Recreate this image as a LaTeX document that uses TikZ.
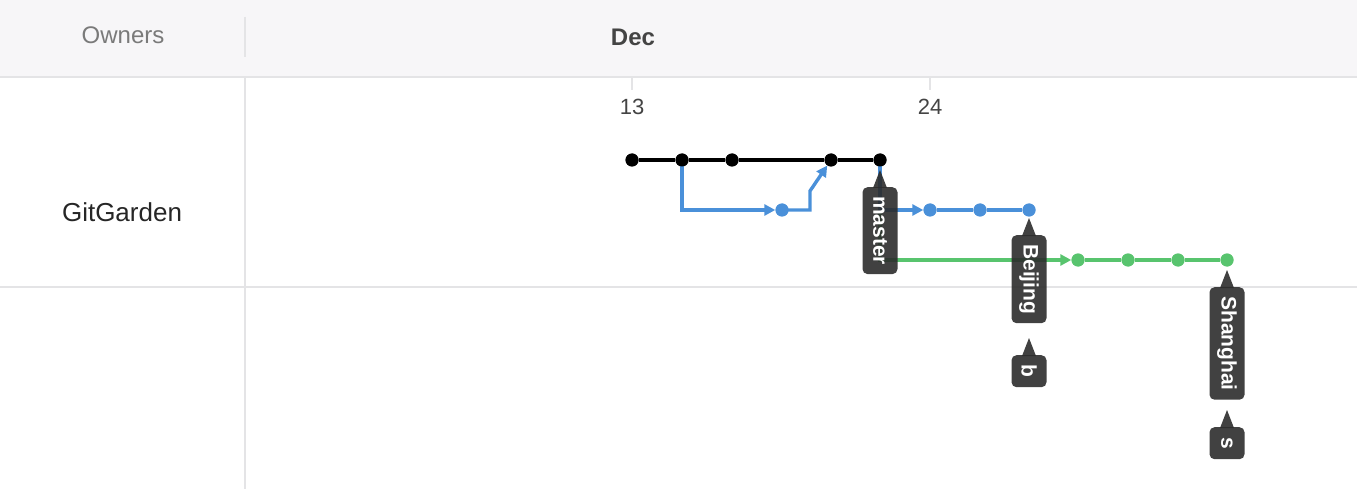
\documentclass[tikz,border=0pt]{standalone}
\usepackage{fontspec}
\setmainfont{Liberation Sans}
\usetikzlibrary{arrows.meta,calc}
\definecolor{headbg}{RGB}{247,246,248}
\definecolor{gridc}{RGB}{228,228,230}
\definecolor{bluec}{RGB}{74,144,217}
\definecolor{greenc}{RGB}{88,196,110}
\definecolor{labc}{RGB}{44,44,44}
\definecolor{owncol}{RGB}{122,122,122}
\definecolor{txtc}{RGB}{68,68,68}
\tikzset{
  dotnode/.style={circle,fill=#1,minimum size=13pt,inner sep=0pt},
  bline/.style={draw=bluec,line width=3.4pt,-{Triangle[length=11pt,width=11pt]}},
  gline/.style={draw=greenc,line width=3.4pt,-{Triangle[length=11pt,width=11pt]}},
  mline/.style={draw=black,line width=3.4pt},
  gridline/.style={draw=gridc,line width=2pt},
  labbox/.style={fill=labc,fill opacity=0.9,text opacity=1,rounded corners=5pt,text=white,
    font=\fontsize{21}{24}\selectfont\bfseries,rotate=-90,anchor=west,
    minimum height=35pt,minimum width=32pt,inner xsep=9pt,inner ysep=0pt},
  labtip/.style={fill=labc,fill opacity=0.9},
}
\newcommand\gtag[4]{%
  \node[labbox] (#1) at (#2,#3) {#4};
  \fill[labtip] ($(#1.west)+(-7,1)$) -- ($(#1.west)+(0,-17)$) -- ($(#1.west)+(7,1)$) -- cycle;
}
\begin{document}
\begin{tikzpicture}[x=1pt,y=-1pt]
\useasboundingbox (0,0) rectangle (1357,489);
% header
\fill[headbg] (0,0) rectangle (1357,77);
\draw[gridline] (0,77) -- (1357,77);
\draw[gridline,line width=1.5pt] (245,17) -- (245,57);
\draw[gridline] (245,77) -- (245,489);
\draw[gridline] (0,287) -- (1357,287);
\draw[gridline,line width=1.5pt] (632,77) -- (632,90);
\draw[gridline,line width=1.5pt] (930,77) -- (930,90);
\node[text=owncol,font=\fontsize{24}{28}\selectfont] (own) at (123,35) {Owners};
\node[text=txtc,font=\fontsize{24}{28}\selectfont\bfseries] (dec) at (633,37) {Dec};
\node[text=txtc,font=\fontsize{22}{26}\selectfont] (d13) at (632,107) {13};
\node[text=txtc,font=\fontsize{22}{26}\selectfont] (d24) at (930,107) {24};
\node[text=black!85,font=\fontsize{26}{30}\selectfont] (gg) at (122,212) {GitGarden};
% commits
\node[dotnode=black] (m1) at (632,160) {};
\node[dotnode=black] (m2) at (682,160) {};
\node[dotnode=black] (m3) at (732,160) {};
\node[dotnode=black] (m4) at (831,160) {};
\node[dotnode=black] (m5) at (880,160) {};
\node[dotnode=bluec] (b1) at (782,210) {};
\node[dotnode=bluec] (c1) at (930,210) {};
\node[dotnode=bluec] (c2) at (980,210) {};
\node[dotnode=bluec] (c3) at (1029,210) {};
\node[dotnode=greenc] (g1) at (1078,260) {};
\node[dotnode=greenc] (g2) at (1128,260) {};
\node[dotnode=greenc] (g3) at (1178,260) {};
\node[dotnode=greenc] (g4) at (1227,260) {};
\coordinate (k1) at (810,210);
\coordinate (k2) at (810,191);
% connectors
\draw[gline] (m5.center) |- (g1);
\draw[draw=greenc,line width=3.4pt] (g1) -- (g2) -- (g3) -- (g4);
\draw[bline] (m2.center) |- (b1);
\draw[bline] (b1.center) -- (k1) -- (k2) -- (m4);
\draw[bline] (m5.center) |- (c1);
\draw[draw=bluec,line width=3.4pt] (c1) -- (c2) -- (c3);
\draw[mline] (m1) -- (m2) -- (m3) -- (m4) -- (m5);
\foreach \n in {m1,m2,m3,m4,m5}{\node[dotnode=black] at (\n) {};}
\foreach \n in {b1,c1,c2,c3}{\node[dotnode=bluec] at (\n) {};}
\foreach \n in {g1,g2,g3,g4}{\node[dotnode=greenc] at (\n) {};}
% labels
\gtag{lmaster}{880}{187}{master}
\gtag{lbeijing}{1029}{235}{Beijing}
\gtag{lb}{1029}{355}{b}
\gtag{lshanghai}{1227}{287}{Shanghai}
\gtag{ls}{1227}{427}{s}
\end{tikzpicture}
\end{document}
